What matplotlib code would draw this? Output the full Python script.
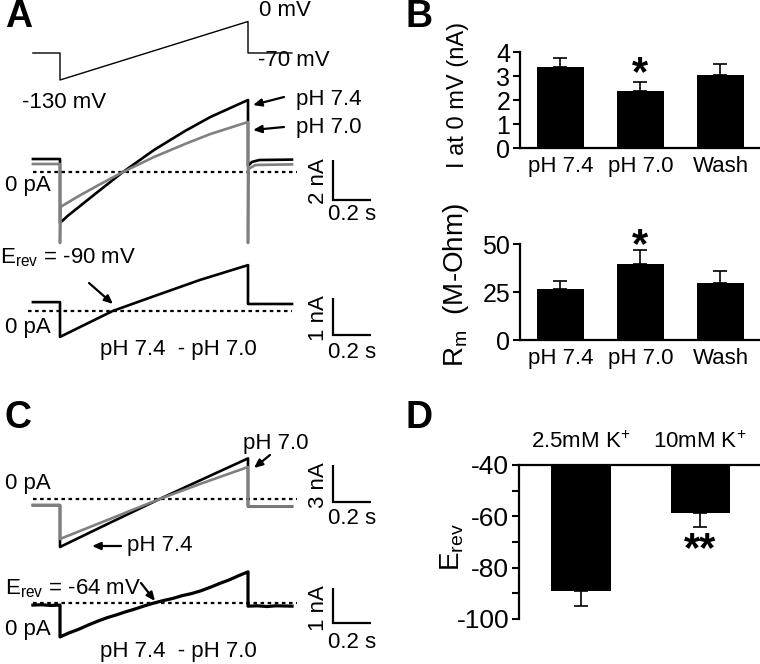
import matplotlib
matplotlib.use("Agg")
import matplotlib.pyplot as plt

plt.rcParams["font.family"] = ["Liberation Sans", "DejaVu Sans"]
plt.rcParams["mathtext.fontset"] = "custom"
plt.rcParams["mathtext.rm"] = "Liberation Sans"
plt.rcParams["mathtext.it"] = "Liberation Sans:italic"
plt.rcParams["axes.unicode_minus"] = False

# ---- panel A: voltage ramp protocol (s, mV)
volt_t = [-0.144, 0.0, 0.0, 1.0, 1.0, 1.234]
volt_mv = [-70, -70, -130, 0, -70, -70]

# ---- panel A: ramp currents (s, nA)
a_ph74_t = [-0.144, 0.0, 0.0, 0.04, 0.1, 0.2, 0.335, 0.5, 0.665, 0.8, 1.0, 1.0, 1.02, 1.06, 1.234]
a_ph74_i = [0.65, 0.65, -2.55, -2.2, -1.75, -1.0, 0.0, 1.1, 2.05, 2.75, 3.6, 0.3, 0.5, 0.6, 0.62]
a_ph70_t = [-0.144, 0.0, 0.0, 0.002, 0.1, 0.2, 0.335, 0.5, 0.665, 0.8, 1.0, 1.0, 1.002, 1.04, 1.234]
a_ph70_i = [0.4, 0.4, -3.55, -1.75, -1.2, -0.68, 0.0, 0.75, 1.4, 1.9, 2.5, -3.55, 0.15, 0.35, 0.38]
a_diff_t = [-0.144, 0.0, 0.0, 0.1, 0.28, 0.5, 0.745, 1.0, 1.0, 1.234]
a_diff_i = [0.24, 0.24, -0.70, -0.45, 0.0, 0.4, 0.84, 1.24, 0.19, 0.19]

# ---- panel B: summary
b_conditions = ["pH 7.4", "pH 7.0", "Wash"]
b_current = [3.37, 2.38, 3.05]
b_current_err = [0.38, 0.37, 0.47]
b_rm = [26.6, 39.6, 29.7]
b_rm_err = [4.1, 7.3, 6.2]

# ---- panel C: ramp currents in 10 mM K+ (s, nA)
c_ph74_t = [-0.144, 0.0, 0.0, 0.25, 0.53, 0.75, 1.0, 1.0, 1.234]
c_ph74_i = [-0.5, -0.5, -3.9, -2.05, 0.0, 1.55, 3.3, -0.6, -0.6]
c_ph70_t = [-0.144, 0.0, 0.0, 0.25, 0.53, 0.75, 1.0, 1.0, 1.234]
c_ph70_i = [-0.5, -0.5, -3.25, -1.72, 0.0, 1.25, 2.6, -0.6, -0.6]
c_diff_t = [-0.144, -0.1, -0.05, 0.0, 0.0, 0.05, 0.1, 0.15, 0.2, 0.25, 0.3, 0.35, 0.4, 0.45,
            0.5, 0.55, 0.6, 0.65, 0.7, 0.75, 0.8, 0.85, 0.9, 0.95, 1.0, 1.0, 1.05, 1.1, 1.15, 1.234]
c_diff_i = [-0.06, -0.05, -0.07, -0.06, -0.97, -0.85, -0.75, -0.63, -0.52, -0.42, -0.34, -0.25, -0.17, -0.08,
            0.0, 0.07, 0.13, 0.21, 0.27, 0.35, 0.45, 0.56, 0.66, 0.78, 0.89, -0.09, -0.08, -0.1, -0.08, -0.09]

# ---- panel D: reversal potential
d_conditions = ["2.5mM K$^{+}$", "10mM K$^{+}$"]
d_erev = [-89.0, -58.7]
d_erev_err = [5.9, 5.4]

W, H = 760, 664
T0_PX, PX_PER_S = 60, 188
GRAY = "#808080"

fig = plt.figure(figsize=(W / 100, H / 100), dpi=100)


def fx(x):
    return x / W


def fy(y):
    return 1 - y / H


def px_axes(left, top, right, bottom):
    return fig.add_axes([left / W, 1 - bottom / H, (right - left) / W, (bottom - top) / H])


def trace_axes(top, bottom, y0_px, px_per_unit):
    ax = px_axes(0, top, 380, bottom)
    ax.set_xlim(-T0_PX / PX_PER_S, (380 - T0_PX) / PX_PER_S)
    ax.set_ylim((y0_px - bottom) / px_per_unit, (y0_px - top) / px_per_unit)
    ax.axis("off")
    return ax


def scale_bar(ax, y_corner, amp):
    x0 = (333 - T0_PX) / PX_PER_S
    ax.plot([x0, x0, x0 + 0.2], [y_corner + amp, y_corner, y_corner], color="black", lw=1.6,
            solid_capstyle="butt", solid_joinstyle="miter")


def zero_line(ax, x_start, x_end):
    ax.plot([(x_start - T0_PX) / PX_PER_S, (x_end - T0_PX) / PX_PER_S], [0, 0], color="black",
            lw=1.6, linestyle=(0, (1.6, 1.6)))


def label(x, y, s, size=16, **kw):
    fig.text(fx(x), fy(y), s, fontsize=size, ha=kw.pop("ha", "left"), va=kw.pop("va", "center"), **kw)


def arrow(x0, y0, x1, y1):
    fig.add_artist(matplotlib.patches.FancyArrowPatch(
        (fx(x0), fy(y0)), (fx(x1), fy(y1)), transform=fig.transFigure,
        arrowstyle="-|>,head_length=5,head_width=2.2", color="black", lw=1.6, shrinkA=0, shrinkB=0))


# ================= Panel A =================
axv = trace_axes(0, 95, 21.5, 0.45)
axv.plot(volt_t, volt_mv, color="black", lw=1.0)

ax_a1 = trace_axes(85, 250, 172, 20)
zero_line(ax_a1, 33, 297)
ax_a1.plot(a_ph74_t, a_ph74_i, color="black", lw=1.9)
ax_a1.plot(a_ph70_t, a_ph70_i, color=GRAY, lw=1.9)
scale_bar(ax_a1, -1.4, 2)

ax_a2 = trace_axes(255, 345, 311, 37)
zero_line(ax_a2, 28, 292)
ax_a2.plot(a_diff_t, a_diff_i, color="black", lw=1.9)
scale_bar(ax_a2, -0.65, 1)

label(5, 17, "A", size=27, weight="bold")
label(259, 10, "0 mV")
label(258, 60, "-70 mV")
label(22, 103, "-130 mV")
label(296, 100, "pH 7.4")
label(296, 128, "pH 7.0")
arrow(284, 97, 253, 105)
arrow(284, 127, 253, 130)
label(5, 186, "0 pA")
label(318, 181, "2 nA", rotation=90, ha="center")
label(352, 215, "0.2 s", ha="center")
label(0, 258, r"E$_{\mathrm{rev}}$ = -90 mV")
arrow(89, 283, 113, 304)
label(5, 327, "0 pA")
label(318, 318, "1 nA", rotation=90, ha="center")
label(352, 353, "0.2 s", ha="center")
label(178, 349, "pH 7.4  - pH 7.0", ha="center")

# ================= Panel C =================
ax_c1 = trace_axes(440, 560, 499, 12.3)
zero_line(ax_c1, 33, 297)
ax_c1.plot(c_ph74_t, c_ph74_i, color="black", lw=1.9)
ax_c1.plot(c_ph70_t, c_ph70_i, color=GRAY, lw=1.9)
scale_bar(ax_c1, -0.24, 3)

ax_c2 = trace_axes(560, 650, 603, 35)
zero_line(ax_c2, 33, 297)
ax_c2.plot(c_diff_t, c_diff_i, color="black", lw=2.3)
scale_bar(ax_c2, -0.57, 1)

label(5, 418, "C", size=27, weight="bold")
label(5, 484, "0 pA")
label(243, 443, "pH 7.0")
arrow(270, 455, 254, 468)
label(127, 545, "pH 7.4")
arrow(121, 546, 92, 546)
label(318, 485, "3 nA", rotation=90, ha="center")
label(352, 519, "0.2 s", ha="center")
label(5, 589, r"E$_{\mathrm{rev}}$ = -64 mV")
arrow(141, 583, 155, 601)
label(5, 630, "0 pA")
label(318, 608, "1 nA", rotation=90, ha="center")
label(352, 642, "0.2 s", ha="center")
label(178, 651, "pH 7.4  - pH 7.0", ha="center")


# ================= Panel B =================
def style_bar_axes(ax):
    for side in ("left", "bottom", "top", "right"):
        ax.spines[side].set_linewidth(1.6)
    ax.tick_params(axis="y", direction="out", length=5, width=1.5, labelsize=18, pad=2)
    ax.tick_params(axis="x", length=0, labelsize=16, pad=6)
    ax.patch.set_alpha(0)


bx = list(range(len(b_conditions)))

ax_b1 = px_axes(520, 52, 760, 148)
ax_b1.bar(bx, b_current, width=0.59, color="black")
ax_b1.errorbar(bx, b_current, yerr=[[0] * 3, b_current_err], fmt="none", ecolor="black",
               elinewidth=1.2, capsize=5, capthick=1.2)
ax_b1.set_xlim(-0.506, 2.494)
ax_b1.set_ylim(0, 4)
ax_b1.set_yticks([0, 1, 2, 3, 4])
ax_b1.set_xticks(bx, b_conditions)
ax_b1.spines[["top", "right"]].set_visible(False)
style_bar_axes(ax_b1)

ax_b2 = px_axes(520, 244, 760, 340)
ax_b2.bar(bx, b_rm, width=0.59, color="black")
ax_b2.errorbar(bx, b_rm, yerr=[[0] * 3, b_rm_err], fmt="none", ecolor="black",
               elinewidth=1.2, capsize=5, capthick=1.2)
ax_b2.set_xlim(-0.506, 2.494)
ax_b2.set_ylim(0, 50)
ax_b2.set_yticks([0, 25, 50])
ax_b2.set_xticks(bx, b_conditions)
ax_b2.spines[["top", "right"]].set_visible(False)
style_bar_axes(ax_b2)

label(405, 17, "B", size=27, weight="bold")
label(458, 95, "I at 0 mV (nA)", size=17, rotation=90, ha="center")
label(456, 285, r"R$_{\mathrm{m}}$  (M-Ohm)", size=20, rotation=90, ha="center")
label(640, 74, "*", size=30, weight="bold", ha="center")
label(640, 246, "*", size=30, weight="bold", ha="center")

# ================= Panel D =================
dx = list(range(len(d_conditions)))
ax_d = px_axes(519, 465, 760, 619)
ax_d.bar(dx, [v + 40 for v in d_erev], bottom=-40, width=0.496, color="black")
ax_d.errorbar(dx, d_erev, yerr=[d_erev_err, [0] * 2], fmt="none", ecolor="black",
              elinewidth=1.2, capsize=5, capthick=1.2)
ax_d.set_xlim(-0.521, 1.504)
ax_d.set_ylim(-100, -40)
ax_d.set_yticks([-40, -60, -80, -100])
ax_d.set_yticks([-50, -70, -90], minor=True)
ax_d.xaxis.tick_top()
ax_d.set_xticks(dx, d_conditions)
ax_d.spines[["bottom", "right"]].set_visible(False)
style_bar_axes(ax_d)
ax_d.tick_params(axis="y", which="minor", direction="out", length=5, width=1.5)
ax_d.tick_params(axis="y", labelsize=19)
ax_d.tick_params(axis="x", labelsize=16, pad=9)

label(405, 418, "D", size=27, weight="bold")
label(452, 547, r"E$_{\mathrm{rev}}$", size=20, rotation=90, ha="center")
label(700, 550, "**", size=30, weight="bold", ha="center")

fig.savefig("out.png", dpi=100)
